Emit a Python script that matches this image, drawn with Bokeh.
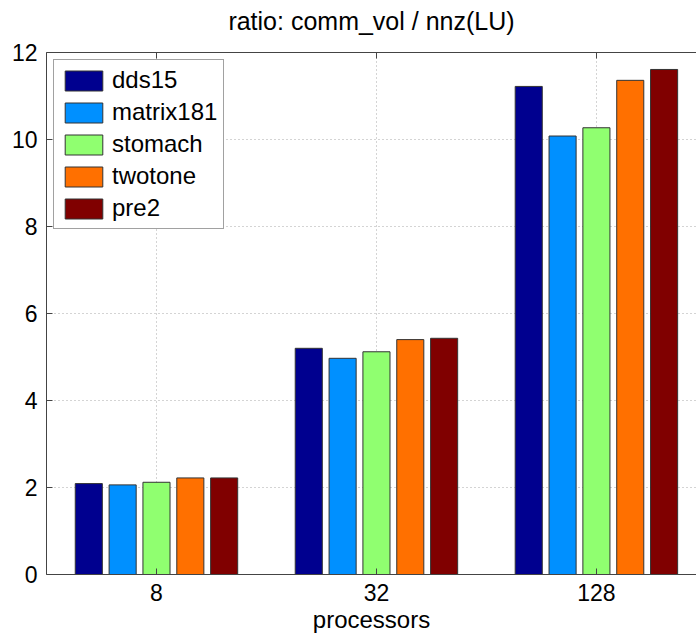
from bokeh.plotting import figure
from bokeh.models import (ColumnDataSource, Range1d, FixedTicker, LinearAxis,
                          Legend, LegendItem)
from bokeh.embed import file_html
from bokeh.resources import INLINE

# ---------------- data ----------------
title_text = "ratio: comm_vol / nnz(LU)"
processors = ["8", "32", "128"]
dds15 = [2.09, 5.20, 11.22]
matrix181 = [2.06, 4.97, 10.08]
stomach = [2.12, 5.12, 10.27]
twotone = [2.22, 5.40, 11.36]
pre2 = [2.22, 5.43, 11.61]

series_names = ["dds15", "matrix181", "stomach", "twotone", "pre2"]
series_values = [dds15, matrix181, stomach, twotone, pre2]
colors = ["#00008F", "#0090FF", "#90FF70", "#FF7000", "#800000"]

FONT = "Liberation Sans"

p = figure(width=696, height=635, output_backend="svg", toolbar_location=None,
           x_range=Range1d(0.5, 3.455), y_range=Range1d(0, 12),
           min_border_left=46, min_border_right=0, min_border_top=52,
           min_border_bottom=61, title_location=None)

n = len(series_names)
group_width = min(0.8, n / (n + 1.5))
step = group_width / n
bar_w = step * 0.8
base = list(range(1, len(processors) + 1))

items = []
for i, (name, vals, col) in enumerate(zip(series_names, series_values, colors)):
    off = (i - (n - 1) / 2) * step
    src = ColumnDataSource(dict(x=[b + off for b in base], top=vals))
    r = p.vbar(x="x", top="top", width=bar_w, bottom=0, source=src,
               fill_color=col, line_color="#333333", line_width=1)
    items.append(LegendItem(label=name, renderers=[r]))

# axes
p.xaxis.ticker = FixedTicker(ticks=base)
p.xaxis.major_label_overrides = {b: lab for b, lab in zip(base, processors)}
p.xaxis.axis_label = "processors"
p.yaxis.ticker = FixedTicker(ticks=list(range(0, 13, 2)))

for ax in (p.xaxis[0], p.yaxis[0]):
    ax.axis_line_color = "#444444"
    ax.major_tick_line_color = "#444444"
    ax.major_tick_in = 6
    ax.major_tick_out = 0
    ax.minor_tick_line_color = None
    ax.major_label_text_font = FONT
    ax.major_label_text_font_size = "23px"
    ax.major_label_text_color = "black"
    ax.axis_label_text_font = FONT
    ax.axis_label_text_font_size = "24px"
    ax.axis_label_text_font_style = "normal"
    ax.axis_label_text_color = "black"

p.xaxis.major_label_standoff = 9
p.xaxis.axis_label_standoff = 2
p.yaxis.major_label_standoff = 9

# top box edge, carrying the chart title as its label
top_ax = LinearAxis(ticker=FixedTicker(ticks=base),
                    major_label_overrides={b: "" for b in base},
                    axis_line_color="#444444", major_tick_line_color="#444444",
                    major_tick_in=6, major_tick_out=0, minor_tick_line_color=None,
                    major_label_standoff=0,
                    axis_label=title_text, axis_label_standoff=18,
                    axis_label_text_font=FONT, axis_label_text_font_size="25px",
                    axis_label_text_font_style="normal",
                    axis_label_text_color="black")
p.add_layout(top_ax, "above")

p.outline_line_color = None

# grid
p.xgrid.ticker = FixedTicker(ticks=base)
p.ygrid.ticker = FixedTicker(ticks=list(range(0, 13, 2)))
for g in (p.xgrid[0], p.ygrid[0]):
    g.grid_line_color = "#a8a8a8"
    g.grid_line_dash = "1 3"
    g.grid_line_width = 1

legend = Legend(items=items, location="top_left")
legend.margin = 7
legend.padding = 6
legend.spacing = 4
legend.glyph_width = 47
legend.glyph_height = 25
legend.label_standoff = 5
legend.label_text_font = FONT
legend.label_text_font_size = "24px"
legend.label_text_color = "black"
legend.label_height = 25
legend.border_line_color = "#444444"
legend.border_line_width = 1
legend.background_fill_alpha = 1
p.add_layout(legend, "center")

open("out.html", "w").write(file_html(p, INLINE))
